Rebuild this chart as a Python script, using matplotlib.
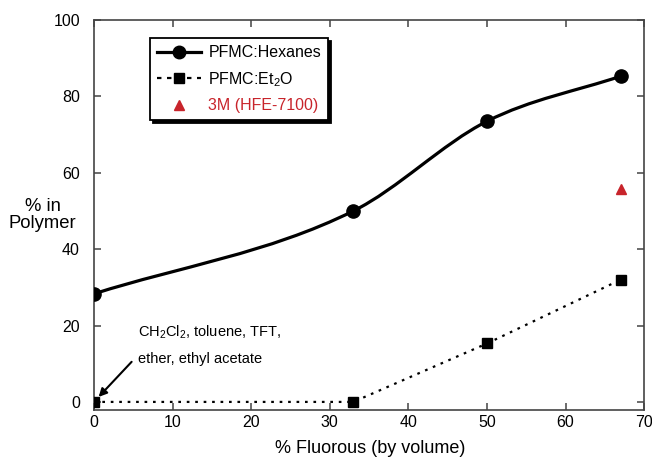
import matplotlib
matplotlib.use("Agg")
import numpy as np
from matplotlib import pyplot as plt
from matplotlib.path import Path
from matplotlib.patches import PathPatch
from matplotlib.lines import Line2D

plt.rcParams["font.family"] = ["Liberation Sans", "DejaVu Sans"]
plt.rcParams["mathtext.fontset"] = "custom"
plt.rcParams["mathtext.rm"] = "Liberation Sans"
plt.rcParams["mathtext.it"] = "Liberation Sans"

# data
fluorous = [0, 33, 50, 67]
hexanes = [28.3, 50.0, 73.5, 85.3]
eto = [0.0, 0.0, 15.3, 32.0]
hfe_x = [67]
hfe_y = [55.8]

x_ticks = [0, 10, 20, 30, 40, 50, 60, 70]
y_ticks = [0, 20, 40, 60, 80, 100]

RED = "#c8242b"
SPINE = "#444444"


def smooth_path(xs, ys):
    """Bezier path through the points (Hermite tangents), like a smoothed plot line"""
    xs = np.asarray(xs, float)
    ys = np.asarray(ys, float)
    sec = np.diff(ys) / np.diff(xs)
    d = np.empty(len(xs))
    d[1:-1] = (sec[:-1] + sec[1:]) / 2
    d[0] = sec[0]
    d[-1] = sec[-1]
    verts = [(xs[0], ys[0])]
    codes = [Path.MOVETO]
    for i in range(len(xs) - 1):
        h = xs[i + 1] - xs[i]
        verts += [(xs[i] + h / 3, ys[i] + h * d[i] / 3),
                  (xs[i + 1] - h / 3, ys[i + 1] - h * d[i + 1] / 3),
                  (xs[i + 1], ys[i + 1])]
        codes += [Path.CURVE4] * 3
    return Path(verts, codes)


fig = plt.figure(figsize=(6.52, 4.57), dpi=100)
ax = fig.add_axes([0.144, 0.103, 0.844, 0.853])

ax.add_patch(PathPatch(smooth_path(fluorous, hexanes), fill=False,
                       lw=2.3, edgecolor="black", zorder=3))
ax.plot(fluorous, hexanes, "o", color="black", ms=9.5, zorder=4)

dot_style = (0, (1.2, 2.6))
ax.plot(fluorous, eto, linestyle=dot_style, color="black", lw=1.6, zorder=3)
ax.plot(fluorous, eto, "s", color="black", ms=6.5, zorder=4)

ax.plot(hfe_x, hfe_y, "^", color=RED, ms=7.5, zorder=4)

ax.set_xlim(0, 70)
ax.set_ylim(-2.1, 100)
ax.set_xticks(x_ticks)
ax.set_yticks(y_ticks)
ax.tick_params(direction="in", length=5, width=1.1, color=SPINE,
               top=True, right=True, labelsize=11.5)
ax.tick_params(axis="y", pad=10)
ax.tick_params(axis="x", pad=4)
for s in ax.spines.values():
    s.set_color(SPINE)
    s.set_linewidth(1.2)

ax.set_xlabel("% Fluorous (by volume)", fontsize=13)
ax.xaxis.set_label_coords(0.502, -0.078)
ax.set_ylabel("% in\nPolymer", fontsize=13.3, rotation=0, ha="center",
              va="center", linespacing=0.95)
ax.yaxis.set_label_coords(-0.093, 0.5)

handles = [
    Line2D([], [], color="black", lw=2.3, marker="o", ms=9),
    Line2D([], [], color="black", lw=1.6, linestyle=(0, (2, 2.5)),
           marker="s", ms=6.5),
    Line2D([], [], color=RED, lw=0, marker="^", ms=7.5),
]
labels = ["PFMC:Hexanes", r"PFMC:Et$_2$O", "3M (HFE-7100)"]
leg = ax.legend(handles, labels, loc="upper left",
                bbox_to_anchor=(0.102, 0.954), fontsize=11.5,
                handlelength=2.75, handletextpad=0.45, labelspacing=0.6,
                borderpad=0.45, borderaxespad=0, fancybox=False,
                framealpha=1, edgecolor="black",
                shadow={"color": "black", "alpha": 1})
leg.get_frame().set_linewidth(1.3)
leg.get_texts()[2].set_color(RED)

ax.text(5.6, 18.3, r"CH$_2$Cl$_2$, toluene, TFT,", fontsize=10.5,
        ha="left", va="center")
ax.text(5.6, 11.3, "ether, ethyl acetate", fontsize=10.5,
        ha="left", va="center")
ax.annotate("", xy=(0.6, 1.3), xytext=(4.8, 10.5),
            arrowprops=dict(arrowstyle="-|>", lw=1.5, color="black",
                            mutation_scale=12, shrinkA=0, shrinkB=0))

fig.savefig("out.png", dpi=100)
